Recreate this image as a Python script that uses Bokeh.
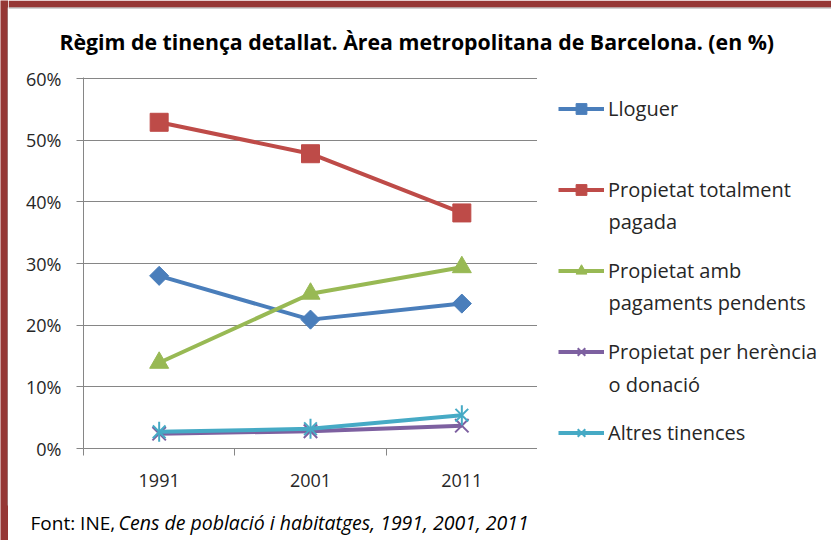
import math
from bokeh.plotting import figure
from bokeh.layouts import row, column
from bokeh.models import (Range1d, LinearAxis, FixedTicker, PrintfTickFormatter,
                          Legend, LegendItem, Label, BoxAnnotation)
from bokeh.embed import file_html
from bokeh.resources import INLINE

# ---- data ----
years = ["1991", "2001", "2011"]
lloguer = [28.0, 20.9, 23.5]
totalment = [52.9, 47.8, 38.2]
pendents = [13.9, 25.1, 29.4]
herencia = [2.4, 2.8, 3.7]
altres = [2.7, 3.2, 5.4]
y_ticks = [0, 10, 20, 30, 40, 50, 60]

series_names = ["Lloguer", "Propietat totalment", "Propietat amb",
                "Propietat per herència", "Altres tinences"]
second_lines = ["", "pagada", "pagaments pendents", "o donació", ""]
series_values = [lloguer, totalment, pendents, herencia, altres]
series_colors = ["#4A7EBB", "#BE4B48", "#98B954", "#7D60A0", "#46AAC5"]

title_text = "Règim de tinença detallat. Àrea metropolitana de Barcelona.  (en %)"
source_a = "Font: INE,"
source_b = "Cens de població i habitatges, 1991, 2001, 2011"

# category slots (centre of each category band) and band boundaries
xs = [i + 0.5 for i in range(len(years))]
bounds = list(range(len(years) + 1))

FONT = "Open Sans"
GRID = "#868686"
TXT = "#262626"
RED = "#953735"
LW = 4

# marker styles per series: list of (marker, size, angle, filled, lw)
marker_styles = [
    [("square", 13.5, math.pi / 4, True, 1)],
    [("square", 18, 0, True, 1)],
    [("triangle", 19, 0, True, 1)],
    [("x", 19, 0, False, 2)],
    [("x", 18, 0, False, 2), ("dash", 20, math.pi / 2, False, 2)],
]


def draw_series(fig, x, y, color, styles, **kw):
    rs = [fig.line(x, y, line_color=color, line_width=LW, **kw)]
    for (mk, sz, ang, filled, lw) in styles:
        rs.append(fig.scatter(x, y, marker=mk, size=sz, angle=ang,
                              fill_color=color if filled else None,
                              line_color=color, line_width=lw, **kw))
    return rs


def blank(w, h, **kw):
    f = figure(width=w, height=h, output_backend="svg", toolbar_location=None,
               x_axis_location=None, y_axis_location=None, title=None, **kw)
    f.grid.visible = False
    f.outline_line_color = None
    f.background_fill_color = "white"
    f.border_fill_color = "white"
    return f


# ---------------- main chart ----------------
p = figure(width=529, height=440, x_range=Range1d(0, len(years)),
           y_range=Range1d(0, 60 * 371 / 370), output_backend="svg",
           toolbar_location=None, x_axis_location=None, min_border_left=75,
           min_border_right=0, min_border_top=17, min_border_bottom=52)
p.outline_line_color = None
p.background_fill_color = "white"
p.border_fill_color = "white"

p.yaxis.ticker = FixedTicker(ticks=y_ticks)
p.yaxis.formatter = PrintfTickFormatter(format="%d%%")
p.yaxis.major_tick_out = 7
p.yaxis.major_tick_in = 0
p.yaxis.minor_tick_line_color = None
p.yaxis.axis_line_color = GRID
p.yaxis.major_tick_line_color = GRID
p.yaxis.major_label_text_font = FONT
p.yaxis.major_label_text_font_size = "18px"
p.yaxis.major_label_text_color = TXT
p.yaxis.major_label_standoff = 15
p.ygrid.grid_line_color = GRID
p.xgrid.visible = False

tick_axis = LinearAxis(ticker=FixedTicker(ticks=bounds),
                       major_tick_out=7, major_tick_in=0, minor_tick_line_color=None,
                       major_label_text_font_size="1px", major_label_text_alpha=0,
                       major_label_standoff=0, axis_line_color=GRID,
                       major_tick_line_color=GRID)
p.add_layout(tick_axis, "below")
cat_axis = LinearAxis(ticker=FixedTicker(ticks=xs),
                      major_label_overrides={x: y for x, y in zip(xs, years)},
                      major_tick_line_color=None, minor_tick_line_color=None,
                      axis_line_color=None, major_label_standoff=12,
                      major_label_text_font=FONT, major_label_text_font_size="18px",
                      major_label_text_color=TXT)
p.add_layout(cat_axis, "below")

for vals, col, st in zip(series_values, series_colors, marker_styles):
    draw_series(p, xs, vals, col, st)

# ---------------- legend panel (frame aligned with the chart frame) ----------------
FRAME_H = 371
lg = blank(294, 440, x_range=Range1d(0, 294), y_range=Range1d(0, FRAME_H),
           min_border_left=0, min_border_right=0, min_border_top=17,
           min_border_bottom=52)
# legend proxies: the same series, mapped onto an off-screen range so only the
# legend swatches are visible
lg.extra_x_ranges = {"off": Range1d(-10, -9)}
items = []
for name, vals, col, st in zip(series_names, series_values, series_colors, marker_styles):
    rs = draw_series(lg, xs, vals, col, st, x_range_name="off")
    items.append(LegendItem(label=name, renderers=rs))
legend = Legend(items=items, location=(21, 2), orientation="vertical", padding=0,
                margin=0, spacing=54, glyph_width=46, glyph_height=27, label_height=27,
                label_standoff=4, label_text_font=FONT, label_text_font_size="20px",
                label_text_color=TXT, border_line_color=None, background_fill_alpha=0)
lg.add_layout(legend)
# second lines of the wrapped legend labels (distance below frame top, px)
second_offsets = [0, 144, 225, 307, 0]
for txt, off in zip(second_lines, second_offsets):
    if txt:
        lg.add_layout(Label(x=71, y=FRAME_H - off, text=txt,
                            x_units="screen", y_units="screen", text_font=FONT,
                            text_font_size="20px", text_color=TXT, text_align="left",
                            text_baseline="middle"))

# ---------------- header / footer / strip ----------------
hd = blank(823, 60, x_range=Range1d(0, 823), y_range=Range1d(0, 60), min_border=0)
hd.add_layout(BoxAnnotation(left=0, right=823, bottom=53, top=60, fill_color=RED,
                            fill_alpha=1, line_color=None))
hd.add_layout(BoxAnnotation(left=0, right=823, bottom=52, top=53, fill_color="#A6A6A6",
                            fill_alpha=1, line_color=None))
hd.add_layout(Label(x=411, y=19, text=title_text, text_font=FONT,
                    text_font_size="21.3px", text_font_style="bold", text_color="black",
                    text_align="center", text_baseline="middle"))

ft = blank(823, 40, x_range=Range1d(0, 823), y_range=Range1d(0, 40), min_border=0)
ft.add_layout(Label(x=22, y=18, text=source_a, text_font=FONT, text_font_size="19px",
                    text_color="black", text_align="left", text_baseline="middle"))
ft.add_layout(Label(x=110, y=18, text=source_b, text_font=FONT, text_font_size="19.5px",
                    text_font_style="italic", text_color="black", text_align="left",
                    text_baseline="middle"))

st = blank(8, 540, x_range=Range1d(0, 8), y_range=Range1d(0, 540), min_border=0)
st.background_fill_color = RED
st.add_layout(BoxAnnotation(left=7, right=8, bottom=35, top=533, fill_color="#A6A6A6",
                            fill_alpha=1, line_color=None))

layout = row(st, column(hd, row(p, lg), ft))

open("out.html", "w").write(file_html(layout, INLINE))
